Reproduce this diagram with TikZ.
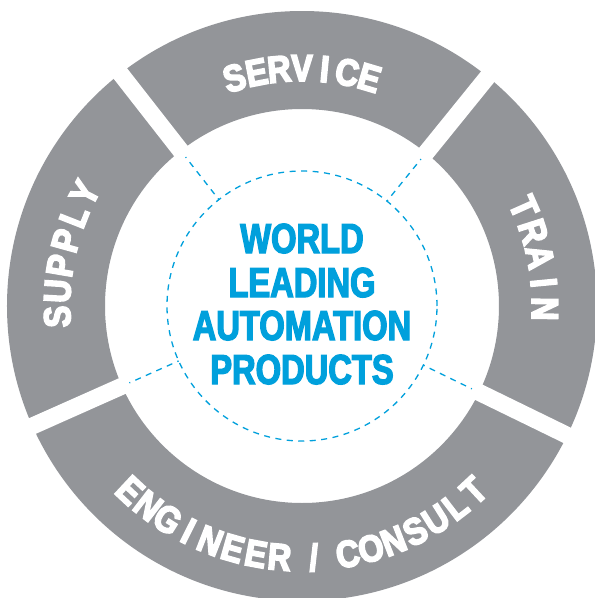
\documentclass[tikz,border=0pt]{standalone}
\usepackage{fontspec}
\setmainfont{Liberation Sans}
\newfontfamily\condfont{Liberation Sans}[FakeStretch=0.78,FakeBold=3]
\newfontfamily\ringfont{Liberation Sans}[FakeStretch=0.86,FakeBold=4.5]
\definecolor{ringgray}{RGB}{147,149,153}
\definecolor{wlblue}{RGB}{0,160,220}
\newcommand{\ringfmt}{\ringfont\bfseries\fontsize{37.5}{40}\selectfont}
\newdimen\ringtot \newdimen\ringpos \newdimen\ringwd \newcount\ringn
\tikzset{
  ringchar/.style={anchor=base, inner sep=0pt, outer sep=0pt, text=white, font=\ringfmt},
  centertext/.style={anchor=base, text=wlblue, font=\condfont\bfseries\fontsize{41.9}{44}\selectfont, inner sep=0pt},
  bluedash/.style={wlblue, line width=1.3pt, dash pattern=on 6pt off 5.5pt},
  gapline/.style={white, line width=17pt}
}
% #1 name, #2 radius (pt), #3 start angle, #4 end angle, #5 rotation offset, #6 characters
\newcommand\ringlabel[6]{%
  \global\ringtot=0pt \global\ringn=0
  \foreach \c in {#6} {\setbox0=\hbox{\ringfmt\c}\global\advance\ringtot by \wd0 \global\advance\ringn by 1}
  \pgfmathsetmacro\ringarc{#2*(pi/180)*abs(#4-#3)}
  \pgfmathsetmacro\ringgap{(\ringarc - \the\ringtot)/(\the\ringn-1)}
  \pgfmathsetmacro\ringsign{sign(#4-#3)}
  \global\ringpos=0pt
  \foreach \c [count=\i] in {#6} {
    \setbox0=\hbox{\ringfmt\c}\ringwd=\wd0
    \pgfmathsetmacro\ringang{#3 + \ringsign*((\the\ringpos + 0.5*\the\ringwd)/#2)*(180/pi)}
    \node[ringchar, rotate=\ringang+#5] (#1-\i) at (\ringang:#2pt) {\c};
    \global\advance\ringpos by \ringwd
    \global\advance\ringpos by \ringgap pt
  }
}
\begin{document}
\begin{tikzpicture}
\useasboundingbox (-302pt,-292pt) rectangle (293pt,306pt);
\clip (-302pt,-292pt) rectangle (293pt,306pt);
\fill[white] (-302pt,-292pt) rectangle (293pt,306pt);
% ring
\fill[ringgray, even odd rule] (0,0) circle[radius=295pt] (0,0) circle[radius=197pt];
\foreach \a in {51,128,204,-26} {
  \draw[gapline] (\a:194pt) -- (\a:305pt);
}
% dashed circle and spokes
\draw[bluedash] (0,0) circle[radius=135pt];
\foreach \a in {51,128,204,-26} {
  \draw[bluedash, dash phase=5pt] (\a:189pt) -- (\a:135pt);
}
% ring labels
\ringlabel{service}{225}{106.5}{73.5}{-90}{S,E,R,V,I,C,E}
\ringlabel{supply}{232}{182.5}{152.5}{-90}{S,U,P,P,L,Y}
\ringlabel{train}{230}{24}{-0.7}{-90}{T,R,A,I,N}
\ringlabel{engineer}{265}{227}{313}{90}{E,N,G,I,N,E,E,R,{\kern11pt/\kern11pt},C,O,N,S,U,L,T}
% center text
\node[centertext] (l1) at (0pt,53pt) {WORLD};
\node[centertext] (l2) at (0pt,9pt) {LEADING};
\node[centertext] (l3) at (0pt,-34pt) {AUTOMATION};
\node[centertext] (l4) at (0pt,-78pt) {PRODUCTS};
\end{tikzpicture}
\end{document}
